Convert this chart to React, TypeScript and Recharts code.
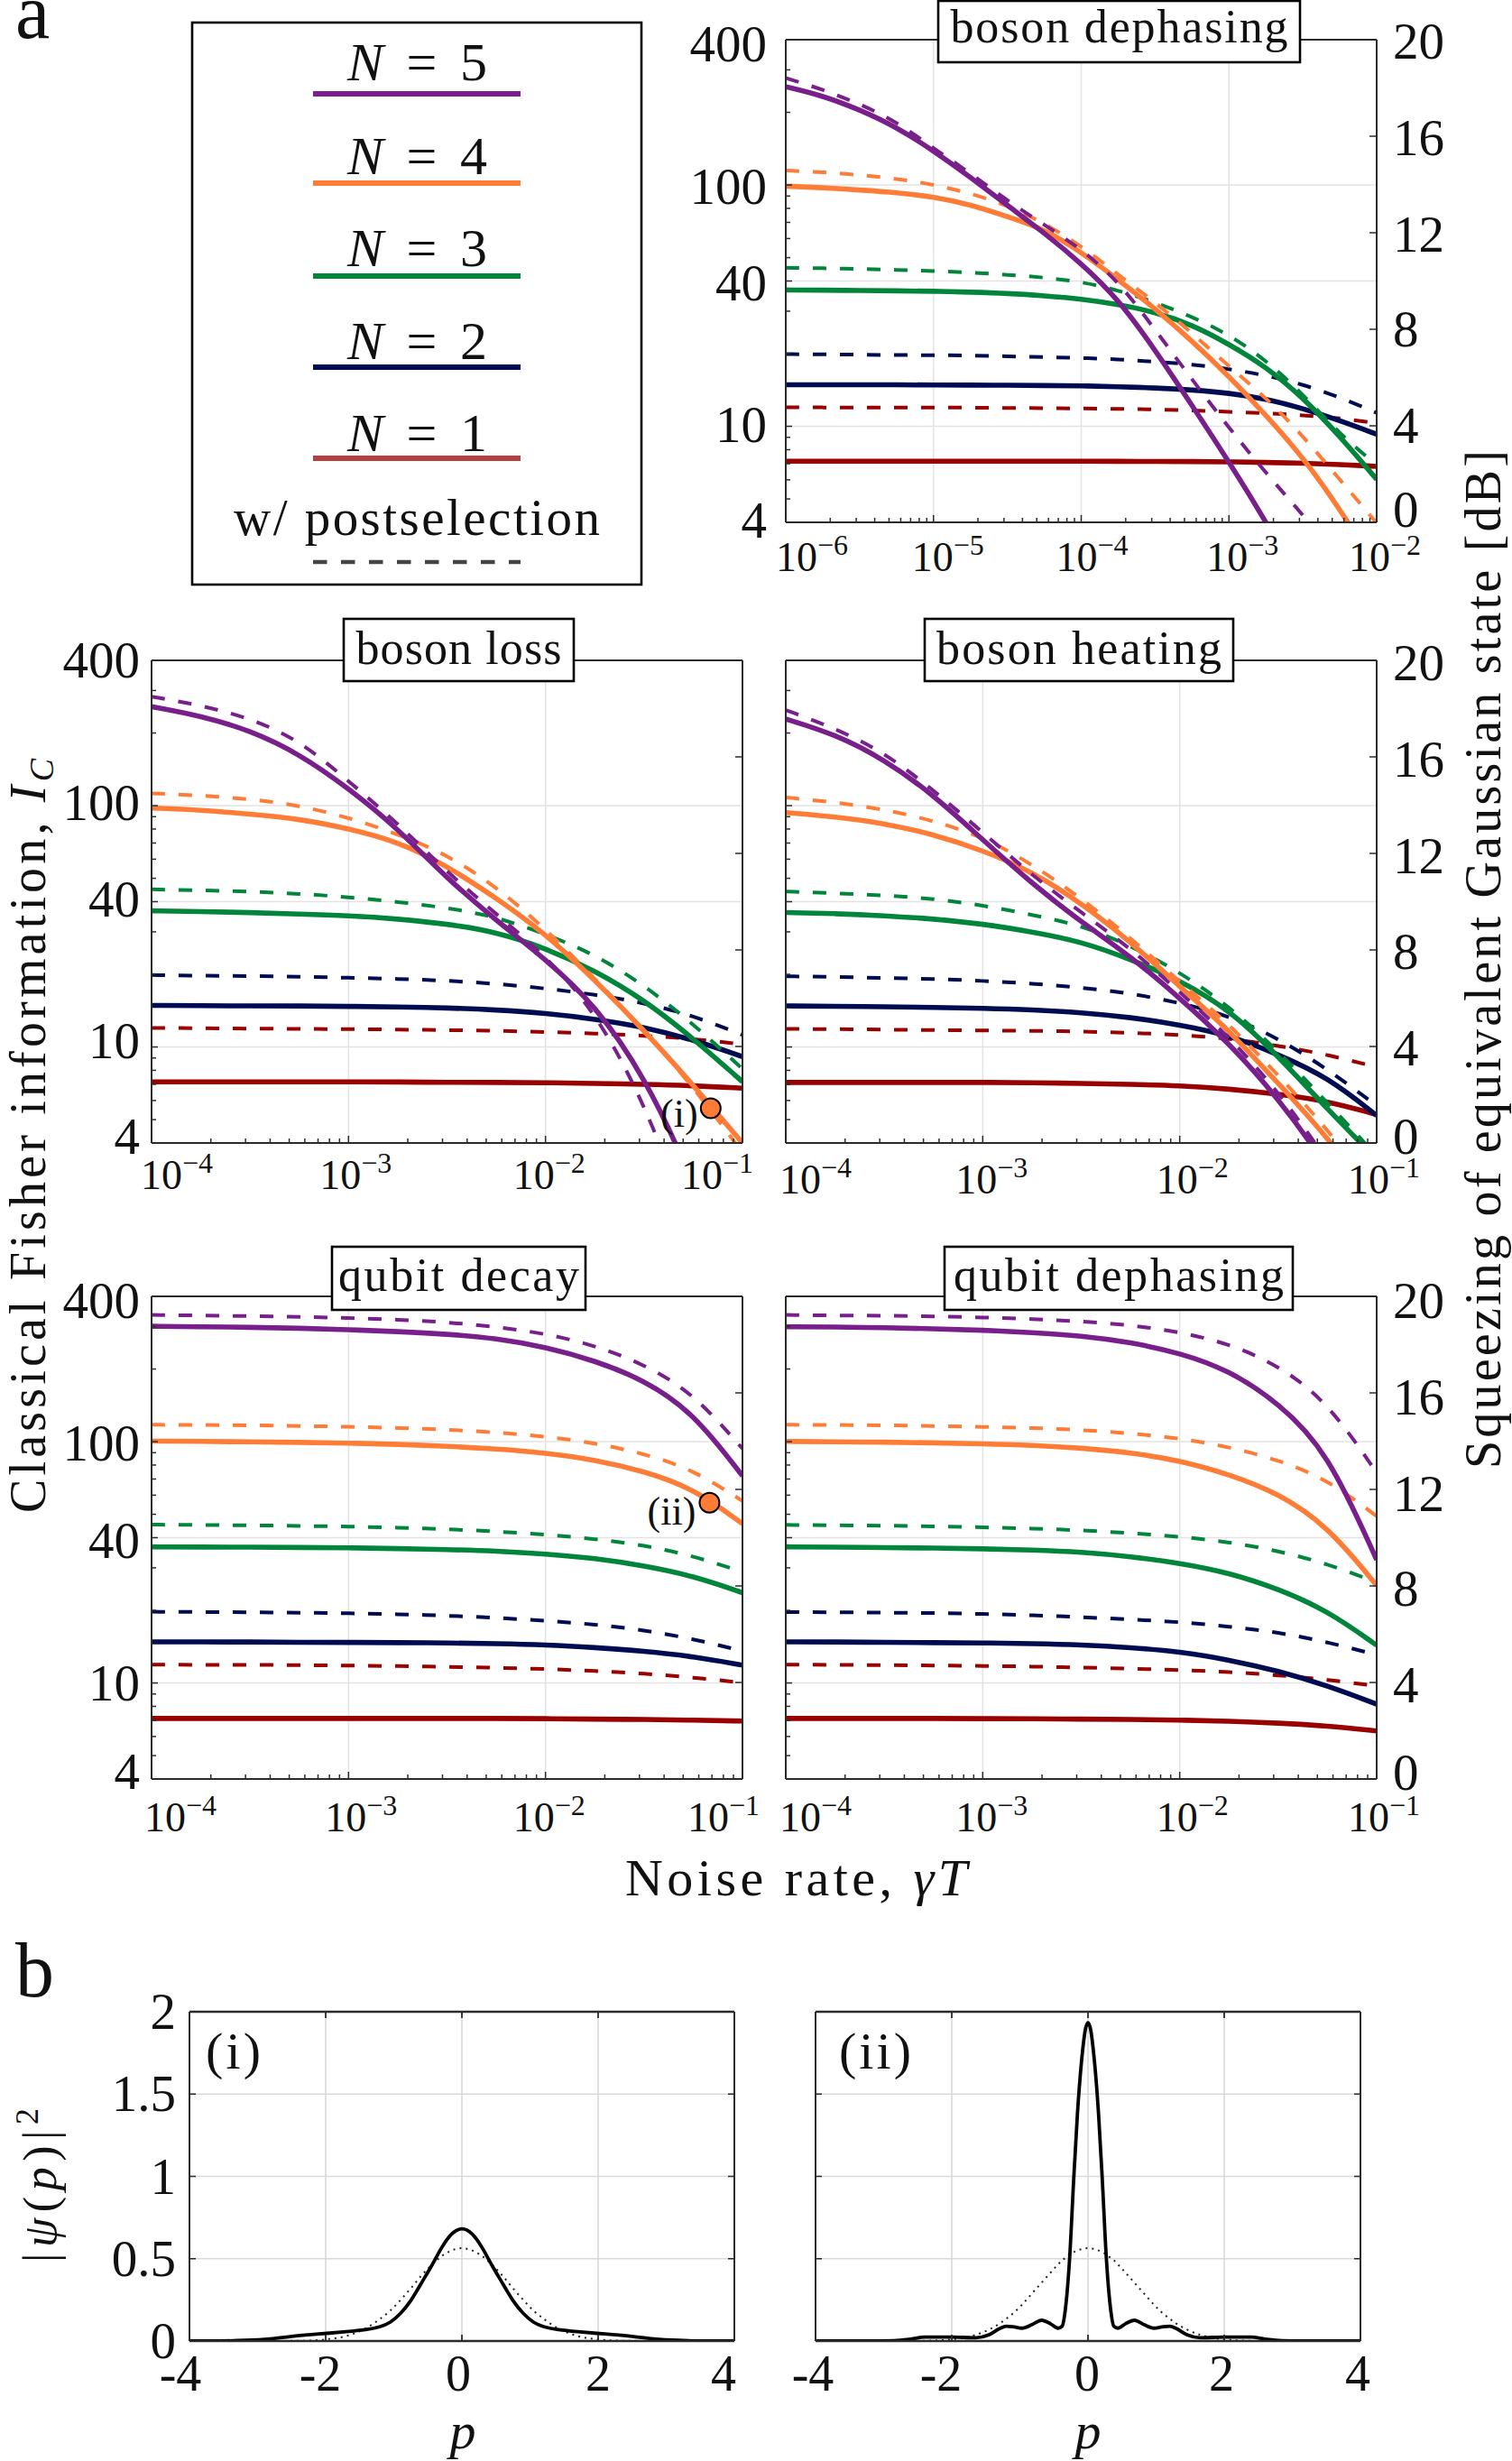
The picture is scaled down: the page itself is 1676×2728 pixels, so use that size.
// Fisher information vs noise rate for five noise channels, plus two wavefunction panels
import React from "react";
import {
  LineChart,
  Line,
  XAxis,
  YAxis,
  CartesianGrid,
  ReferenceDot,
} from "recharts";

const FONT = "'Liberation Serif', serif";
const INK = "#111";
const FRAME = "#2b2b2b";
const GRID = "#e3e3e3";

// x samples, noise rate
const rateDephasing = [1e-6, 1.78e-6, 3.16e-6, 5.62e-6, 1e-5, 1.78e-5, 3.16e-5, 5.62e-5, 1e-4, 1.78e-4, 3.16e-4, 5.62e-4, 1e-3, 1.78e-3, 3.16e-3, 5.62e-3, 1e-2];
const rateOther = [1e-4, 1.78e-4, 3.16e-4, 5.62e-4, 1e-3, 1.78e-3, 3.16e-3, 5.62e-3, 1e-2, 1.78e-2, 3.16e-2, 5.62e-2, 1e-1];

// boson dephasing, squeezing in dB
const depN5 = [18.05, 17.68, 17.1, 16.38, 15.4, 14.3, 13.13, 12.0, 10.73, 9.26, 7.15, 4.85, 2.51, 0.04, -2.7, -5.6, -8.8];
const depN5ps = [18.41, 17.94, 17.34, 16.61, 15.5, 14.47, 13.33, 12.33, 11.33, 10.0, 7.99, 5.92, 3.91, 2.04, 0.31, -1.5, -3.5];
const depN4 = [13.93, 13.87, 13.77, 13.67, 13.49, 13.17, 12.67, 12.16, 11.2, 10.06, 8.86, 7.52, 6.05, 4.45, 2.71, 0.57, -1.9];
const depN4ps = [14.58, 14.51, 14.4, 14.24, 14.0, 13.64, 13.13, 12.4, 11.46, 10.26, 9.12, 7.86, 6.45, 5.18, 3.58, 1.78, -0.03];
const depN3 = [9.63, 9.62, 9.61, 9.59, 9.58, 9.54, 9.49, 9.39, 9.26, 9.03, 8.72, 8.19, 7.39, 6.45, 5.18, 3.58, 1.78];
const depN3ps = [10.55, 10.53, 10.5, 10.46, 10.42, 10.35, 10.26, 10.15, 9.97, 9.62, 9.12, 8.52, 7.79, 6.72, 5.32, 3.65, 2.38];
const depN2 = [5.7, 5.7, 5.7, 5.7, 5.69, 5.69, 5.68, 5.67, 5.66, 5.62, 5.57, 5.49, 5.36, 5.12, 4.72, 4.22, 3.65];
const depN2ps = [6.97, 6.96, 6.95, 6.93, 6.93, 6.91, 6.88, 6.85, 6.81, 6.76, 6.65, 6.55, 6.36, 6.09, 5.72, 5.18, 4.54];
const depN1 = [2.53, 2.53, 2.53, 2.53, 2.53, 2.53, 2.53, 2.53, 2.53, 2.53, 2.52, 2.52, 2.51, 2.48, 2.45, 2.4, 2.32];
const depN1ps = [4.77, 4.76, 4.76, 4.76, 4.76, 4.75, 4.74, 4.73, 4.72, 4.7, 4.68, 4.64, 4.58, 4.52, 4.44, 4.32, 4.11];

// boson loss
const lossN5 = [18.08, 17.7, 17.1, 16.13, 14.7, 13.03, 10.96, 9.22, 7.62, 5.74, 2.81, -1.47, -7.62];
const lossN5ps = [18.5, 18.14, 17.61, 16.7, 15.0, 13.25, 11.22, 9.49, 7.76, 5.48, 1.74, -3.6, -10.3];
const lossN4 = [13.88, 13.8, 13.63, 13.43, 13.03, 12.49, 11.49, 10.15, 8.68, 6.75, 4.68, 2.4, 0];
const lossN4ps = [14.49, 14.4, 14.26, 13.99, 13.49, 12.8, 11.96, 10.62, 8.88, 6.81, 4.68, 2.34, -0.4];
const lossN3 = [9.62, 9.59, 9.55, 9.49, 9.42, 9.29, 9.08, 8.75, 8.08, 7.15, 5.94, 4.34, 2.54];
const lossN3ps = [10.51, 10.47, 10.42, 10.33, 10.19, 9.99, 9.75, 9.38, 8.66, 7.82, 6.55, 4.94, 3.07];
const lossN2 = [5.7, 5.69, 5.68, 5.68, 5.66, 5.64, 5.6, 5.52, 5.38, 5.14, 4.81, 4.28, 3.58];
const lossN2ps = [6.96, 6.93, 6.92, 6.89, 6.85, 6.8, 6.73, 6.6, 6.41, 6.15, 5.81, 5.28, 4.48];
const lossN1 = [2.53, 2.53, 2.53, 2.53, 2.53, 2.53, 2.51, 2.51, 2.5, 2.47, 2.43, 2.38, 2.27];
const lossN1ps = [4.77, 4.76, 4.74, 4.73, 4.72, 4.7, 4.68, 4.65, 4.6, 4.54, 4.45, 4.32, 4.09];

// boson heating
const heatN5 = [17.57, 16.94, 15.9, 14.43, 12.56, 10.75, 9.15, 7.75, 6.01, 4.14, 1.87, -0.94, -4.41];
const heatN5ps = [17.94, 17.19, 16.19, 14.63, 12.87, 11.09, 9.55, 8.08, 6.25, 4.41, 2.14, -0.67, -4.0];
const heatN4 = [13.69, 13.52, 13.25, 12.79, 12.13, 11.25, 9.95, 8.35, 6.48, 4.68, 2.47, 0.27, -2.54];
const heatN4ps = [14.32, 14.12, 13.83, 13.36, 12.69, 11.56, 10.15, 8.51, 6.68, 4.94, 2.81, 0.6, -2.14];
const heatN3 = [9.55, 9.51, 9.42, 9.29, 9.08, 8.75, 8.35, 7.62, 6.75, 5.54, 3.61, 1.4, -0.67];
const heatN3ps = [10.42, 10.35, 10.26, 10.13, 9.85, 9.46, 9.02, 8.19, 7.08, 5.68, 3.81, 1.67, -0.53];
const heatN2 = [5.68, 5.66, 5.65, 5.62, 5.58, 5.52, 5.41, 5.21, 4.9, 4.48, 3.67, 2.74, 1.14];
const heatN2ps = [6.91, 6.88, 6.84, 6.8, 6.72, 6.61, 6.44, 6.21, 5.81, 5.28, 4.34, 3.07, 1.54];
const heatN1 = [2.51, 2.51, 2.51, 2.51, 2.51, 2.5, 2.47, 2.43, 2.38, 2.24, 2.03, 1.74, 1.18];
const heatN1ps = [4.73, 4.72, 4.7, 4.68, 4.66, 4.65, 4.62, 4.57, 4.48, 4.34, 4.03, 3.67, 3.14];

// qubit decay
const decayN5 = [18.76, 18.74, 18.72, 18.68, 18.62, 18.54, 18.44, 18.26, 17.9, 17.34, 16.54, 15.2, 12.56];
const decayN5ps = [19.23, 19.21, 19.18, 19.16, 19.1, 19.04, 18.93, 18.74, 18.46, 17.97, 17.19, 16.0, 13.69];
const decayN4 = [14.0, 13.99, 13.97, 13.95, 13.92, 13.87, 13.79, 13.68, 13.52, 13.23, 12.76, 12.05, 10.58];
const decayN4ps = [14.68, 14.67, 14.66, 14.63, 14.6, 14.55, 14.48, 14.36, 14.2, 13.92, 13.49, 12.82, 11.52];
const decayN3 = [9.62, 9.61, 9.61, 9.59, 9.58, 9.55, 9.51, 9.45, 9.33, 9.15, 8.84, 8.42, 7.72];
const decayN3ps = [10.54, 10.53, 10.51, 10.49, 10.46, 10.42, 10.35, 10.26, 10.13, 9.95, 9.69, 9.25, 8.58];
const decayN2 = [5.68, 5.68, 5.68, 5.66, 5.66, 5.65, 5.64, 5.61, 5.56, 5.45, 5.3, 5.08, 4.72];
const decayN2ps = [6.93, 6.92, 6.91, 6.89, 6.87, 6.83, 6.77, 6.68, 6.56, 6.41, 6.17, 5.81, 5.3];
const decayN1 = [2.51, 2.51, 2.51, 2.51, 2.51, 2.51, 2.51, 2.51, 2.5, 2.48, 2.47, 2.44, 2.4];
const decayN1ps = [4.74, 4.73, 4.73, 4.72, 4.7, 4.68, 4.65, 4.61, 4.56, 4.48, 4.37, 4.21, 3.99];

// qubit dephasing
const qdepN5 = [18.74, 18.73, 18.7, 18.66, 18.6, 18.5, 18.37, 18.1, 17.66, 16.94, 15.6, 13.6, 9.08];
const qdepN5ps = [19.23, 19.21, 19.2, 19.17, 19.13, 19.06, 18.97, 18.81, 18.53, 18.04, 17.15, 15.65, 12.69];
const qdepN4 = [13.99, 13.97, 13.96, 13.93, 13.89, 13.83, 13.72, 13.53, 13.2, 12.63, 11.85, 10.5, 8.02];
const qdepN4ps = [14.68, 14.67, 14.66, 14.63, 14.59, 14.55, 14.47, 14.32, 14.13, 13.76, 13.23, 12.42, 10.89];
const qdepN3 = [9.62, 9.61, 9.59, 9.57, 9.54, 9.49, 9.41, 9.22, 8.95, 8.55, 7.88, 6.98, 5.54];
const qdepN3ps = [10.53, 10.51, 10.5, 10.47, 10.43, 10.38, 10.31, 10.19, 10.05, 9.82, 9.46, 8.92, 8.15];
const qdepN2 = [5.68, 5.68, 5.66, 5.65, 5.64, 5.61, 5.56, 5.45, 5.28, 4.94, 4.48, 3.87, 3.1];
const qdepN2ps = [6.92, 6.91, 6.89, 6.88, 6.84, 6.79, 6.71, 6.61, 6.51, 6.32, 6.08, 5.68, 5.14];
const qdepN1 = [2.51, 2.51, 2.51, 2.51, 2.5, 2.5, 2.48, 2.47, 2.44, 2.4, 2.32, 2.2, 1.99];
const qdepN1ps = [4.74, 4.73, 4.72, 4.7, 4.69, 4.66, 4.62, 4.57, 4.52, 4.44, 4.3, 4.12, 3.85];

// wavefunctions (i) and (ii)
const pGridI = [-4, -3.5, -3.2, -2.8, -2.5, -2.2, -2, -1.7, -1.4, -1.2, -1.05, -0.9, -0.75, -0.6, -0.45, -0.3, -0.15, 0, 0.15, 0.3, 0.45, 0.6, 0.75, 0.9, 1.05, 1.2, 1.4, 1.7, 2, 2.2, 2.5, 2.8, 3.2, 3.5, 4];
const psiI = [0, 0, 0.003, 0.012, 0.03, 0.04, 0.046, 0.056, 0.068, 0.085, 0.11, 0.165, 0.24, 0.35, 0.45, 0.57, 0.66, 0.692, 0.66, 0.57, 0.45, 0.35, 0.24, 0.165, 0.11, 0.085, 0.068, 0.056, 0.046, 0.04, 0.03, 0.012, 0.003, 0, 0];
const gaussI = [0, 0, 0, 0, 0.001, 0.003, 0.01, 0.03, 0.08, 0.135, 0.185, 0.25, 0.32, 0.395, 0.46, 0.515, 0.55, 0.564, 0.55, 0.515, 0.46, 0.395, 0.32, 0.25, 0.185, 0.135, 0.08, 0.03, 0.01, 0.003, 0.001, 0, 0, 0, 0];
const pGridII = [-4, -3.2, -2.85, -2.6, -2.4, -2, -1.65, -1.45, -1.3, -1.2, -1.08, -0.97, -0.82, -0.68, -0.55, -0.44, -0.38, -0.33, -0.27, -0.21, -0.155, -0.08, -0.04, 0, 0.04, 0.08, 0.155, 0.21, 0.27, 0.33, 0.38, 0.44, 0.55, 0.68, 0.82, 0.97, 1.08, 1.2, 1.3, 1.45, 1.65, 2, 2.4, 2.6, 2.85, 3.2, 4];
const psiII = [0, 0, 0.002, 0.012, 0.024, 0.024, 0.02, 0.038, 0.075, 0.09, 0.085, 0.078, 0.1, 0.126, 0.105, 0.078, 0.09, 0.2, 0.5, 0.98, 1.38, 1.76, 1.89, 1.934, 1.89, 1.76, 1.38, 0.98, 0.5, 0.2, 0.09, 0.078, 0.105, 0.126, 0.1, 0.078, 0.085, 0.09, 0.075, 0.038, 0.02, 0.024, 0.024, 0.012, 0.002, 0, 0];
const gaussII = [0, 0, 0, 0, 0.001, 0.01, 0.037, 0.07, 0.105, 0.135, 0.175, 0.22, 0.29, 0.355, 0.415, 0.465, 0.49, 0.505, 0.525, 0.54, 0.55, 0.56, 0.563, 0.564, 0.563, 0.56, 0.55, 0.54, 0.525, 0.505, 0.49, 0.465, 0.415, 0.355, 0.29, 0.22, 0.175, 0.135, 0.105, 0.07, 0.037, 0.01, 0.001, 0, 0, 0, 0];

// tick labels
const leftLabels = [4, 10, 40, 100, 400];
const rightLabels = [0, 4, 8, 12, 16, 20];
const leftMinor = [4, 5, 6, 7, 8, 9, 10, 20, 30, 40, 50, 60, 70, 80, 90, 100, 200, 300, 400];
const pTicks = [-4, -2, 0, 2, 4];
const pInnerTicks = [-2, 0, 2];
const psiTicks = [0, 0.5, 1, 1.5, 2];

// series order is back to front
const seriesKeys = ["n1ps", "n1", "n2ps", "n2", "n3ps", "n3", "n4ps", "n4", "n5ps", "n5"];
const seriesColors: Record<string, string> = {
  n1: "#990000",
  n2: "#000c52",
  n3: "#00853a",
  n4: "#ff7c36",
  n5: "#781f8b",
};

const legendLabels = ["5", "4", "3", "2", "1"];
const legendColors = ["#7b1f8e", "#ff7c36", "#00853a", "#000c52", "#b5403f"];
const legendLineY = [104, 203, 306, 407, 508];
const legendTextY = [89, 193, 295, 398, 500];

const makeRows = (xs: number[], arrs: number[][]) =>
  xs.map((x, i) => {
    const row: Record<string, number> = { x };
    seriesKeys.forEach((k, j) => {
      row[k] = arrs[j][i];
    });
    return row;
  });

const logTicks = (from: number, to: number) => {
  const out: number[] = [];
  for (let e = from; e < to; e++) {
    for (let m = 1; m < 10; m++) out.push(m * 10 ** e);
  }
  out.push(10 ** to);
  return out;
};

const PLOT_W = 655;
const PLOT_H = 535;
const L = 168;
const R = 110;
const T = 44;
const B = 90;

const panels = [
  {
    title: "boson dephasing",
    box: [1040, 1, 401, 68, 374, 47],
    x: 871, y: 44, from: -6, to: -2,
    rows: makeRows(rateDephasing, [depN1ps, depN1, depN2ps, depN2, depN3ps, depN3, depN4ps, depN4, depN5ps, depN5]),
    labelDx: [29, 16, 12, 15, 9], baseline: 54, showLeft: true, showRight: true,
    leftDy: [-2, -2, 2, 2, 5], rightDy: [-14, 0, 0, 2, 2, 2],
  },
  {
    title: "boson loss",
    box: [381, 686, 255, 69, 228, 736],
    x: 168, y: 732, from: -4, to: -1,
    rows: makeRows(rateOther, [lossN1ps, lossN1, lossN2ps, lossN2, lossN3ps, lossN3, lossN4ps, lossN4, lossN5ps, lossN5]),
    labelDx: [28, 8, 4, -28], baseline: 51, showLeft: true, showRight: false,
    leftDy: [-7, -7, -3, -3, 0], rightDy: [0, 0, 0, 0, 0, 0],
    dot: { x: 0.069, y: 1.44, label: "(i)", dx: -35, dy: 5 },
  },
  {
    title: "boson heating",
    box: [1025, 686, 342, 69, 316, 736],
    x: 871, y: 732, from: -4, to: -1,
    rows: makeRows(rateOther, [heatN1ps, heatN1, heatN2ps, heatN2, heatN3ps, heatN3, heatN4ps, heatN4, heatN5ps, heatN5]),
    labelDx: [33, 10, 14, 8], baseline: 56, showLeft: false, showRight: true,
    leftDy: [0, 0, 0, 0, 0], rightDy: [-7, 2, 2, 3, 3, 3],
  },
  {
    title: "qubit decay",
    box: [368, 1382, 281, 70, 267, 1431],
    x: 168, y: 1437, from: -4, to: -1,
    rows: makeRows(rateOther, [decayN1ps, decayN1, decayN2ps, decayN2, decayN3ps, decayN3, decayN4ps, decayN4, decayN5ps, decayN5]),
    labelDx: [32, 14, 4, -21], baseline: 58, showLeft: true, showRight: false,
    leftDy: [-8, 0, 3, 2, 5], rightDy: [0, 0, 0, 0, 0, 0],
    dot: { x: 0.068, y: 11.45, label: "(ii)", dx: -42, dy: 9 },
  },
  {
    title: "qubit dephasing",
    box: [1047, 1382, 386, 70, 366, 1431],
    x: 871, y: 1437, from: -4, to: -1,
    rows: makeRows(rateOther, [qdepN1ps, qdepN1, qdepN2ps, qdepN2, qdepN3ps, qdepN3, qdepN4ps, qdepN4, qdepN5ps, qdepN5]),
    labelDx: [33, 10, 14, 8], baseline: 58, showLeft: false, showRight: true,
    leftDy: [0, 0, 0, 0, 0], rightDy: [-7, 3, 3, 5, 5, 5],
  },
];

const profiles = [
  {
    x: 210, y: 2230, w: 604, h: 365, left: 168, showLeft: true, tag: "(i)", tagX: 228, tagLen: 61, curve: "basis",
    rows: pGridI.map((p, i) => ({ p, psi: psiI[i], gauss: gaussI[i] })),
    labelDx: [-10, -6, -4, 0, -12],
  },
  {
    x: 904, y: 2230, w: 604, h: 365, left: 26, showLeft: false, tag: "(ii)", tagX: 930, tagLen: 80, curve: "monotone",
    rows: pGridII.map((p, i) => ({ p, psi: psiII[i], gauss: gaussII[i] })),
    labelDx: [-3, -12, -1, -3, -3],
  },
];

function RateTick({ x, y, value, from, labelDx, baseline }: any) {
  const exp = Math.round(Math.log10(value));
  const major = Math.abs(Math.log10(value) - exp) < 1e-6;
  return (
    <g>
      <line x1={x} x2={x} y1={y} y2={y - (major ? 8 : 5)} stroke={FRAME} strokeWidth={1.5} />
      {major && (
        <text x={x + labelDx[exp - from]} y={y + baseline} textAnchor="middle" fontFamily={FONT} fontSize={46} fill={INK}>
          10
          <tspan dy={-18} fontSize={32}>{"\u2212" + Math.abs(exp)}</tspan>
        </text>
      )}
    </g>
  );
}

function RateTopTick({ x, y, value }: any) {
  const major = Math.abs(Math.log10(value) - Math.round(Math.log10(value))) < 1e-6;
  return <line x1={x} x2={x} y1={y} y2={y + (major ? 8 : 5)} stroke={FRAME} strokeWidth={1.5} />;
}

function SideTick({ x, y, value, side, labels, gap, len, nudges }: any) {
  const sign = side === "left" ? 1 : -1;
  const idx = labels.indexOf(value);
  return (
    <g>
      <line x1={x} x2={x + sign * (idx >= 0 ? len + 2 : len)} y1={y} y2={y} stroke={FRAME} strokeWidth={1.5} />
      {gap > 0 && idx >= 0 && (
        <text
          x={side === "left" ? x - gap : x + gap}
          y={y + 19 + (nudges ? nudges[idx] : 0)}
          textAnchor={side === "left" ? "end" : "start"}
          fontFamily={FONT}
          fontSize={57}
          fill={INK}
        >
          {value}
        </text>
      )}
    </g>
  );
}

function NoisePanel({ panel }: any) {
  const { x, y, from, to, rows, labelDx, baseline, showLeft, showRight, dot, leftDy, rightDy } = panel;
  const bottomTicks = logTicks(from, to);
  const decades = bottomTicks.filter((v) => Math.abs(Math.log10(v) - Math.round(Math.log10(v))) < 1e-6);
  const leftGap = x < 400 ? 13 : 21;
  return (
    <div style={{ position: "absolute", left: x - L, top: y - T }}>
      <LineChart
        width={PLOT_W + L + R}
        height={PLOT_H + T + B}
        data={rows}
        margin={{ top: T - 1, right: 0, bottom: 0, left: 0 }}
      >
        <CartesianGrid
          xAxisId="x"
          yAxisId="log"
          stroke={GRID}
          strokeWidth={1.6}
          horizontalValues={[10, 40, 100]}
          verticalValues={decades.slice(1, -1)}
        />
        <XAxis
          xAxisId="x"
          dataKey="x"
          type="number"
          scale="log"
          domain={[10 ** from, 10 ** to]}
          allowDataOverflow
          ticks={bottomTicks}
          interval={0}
          height={B}
          tickLine={false}
          tickSize={0}
          tickMargin={0}
          axisLine={{ stroke: FRAME, strokeWidth: 2 }}
          tick={(p: any) => (
            <RateTick x={p.x} y={p.y} value={p.payload.value} from={from} labelDx={labelDx} baseline={baseline} />
          )}
        />
        <XAxis
          xAxisId="top"
          orientation="top"
          type="number"
          scale="log"
          domain={[10 ** from, 10 ** to]}
          allowDataOverflow
          ticks={bottomTicks}
          interval={0}
          height={1}
          tickLine={false}
          tickSize={0}
          tickMargin={0}
          axisLine={{ stroke: FRAME, strokeWidth: 2 }}
          tick={(p: any) => <RateTopTick x={p.x} y={p.y} value={p.payload.value} />}
        />
        <YAxis
          yAxisId="log"
          orientation="left"
          type="number"
          scale="log"
          domain={[4, 400]}
          allowDataOverflow
          ticks={leftMinor}
          interval={0}
          width={L}
          tickLine={false}
          tickSize={0}
          tickMargin={0}
          axisLine={{ stroke: FRAME, strokeWidth: 2 }}
          tick={(p: any) => (
            <SideTick x={p.x} y={p.y} value={p.payload.value} side="left" labels={leftLabels} gap={showLeft ? leftGap : 0} len={5} nudges={leftDy} />
          )}
        />
        <YAxis
          yAxisId="db"
          orientation="right"
          type="number"
          domain={[0, 20]}
          allowDataOverflow
          ticks={rightLabels}
          interval={0}
          width={R}
          tickLine={false}
          tickSize={0}
          tickMargin={0}
          axisLine={{ stroke: FRAME, strokeWidth: 2 }}
          tick={(p: any) => (
            <SideTick x={p.x} y={p.y} value={p.payload.value} side="right" labels={rightLabels} gap={showRight ? 18 : 0} len={6} nudges={rightDy} />
          )}
        />
        {seriesKeys.map((k) => {
          const dashed = k.endsWith("ps");
          return (
            <Line
              key={k}
              xAxisId="x"
              yAxisId="db"
              dataKey={k}
              type="basis"
              stroke={seriesColors[k.slice(0, 2)]}
              strokeWidth={dashed ? 4 : 5.6}
              strokeDasharray={dashed ? "15 15" : undefined}
              dot={false}
              isAnimationActive={false}
            />
          );
        })}
        {dot && (
          <ReferenceDot
            xAxisId="x"
            yAxisId="db"
            x={dot.x}
            y={dot.y}
            r={11}
            fill="#ff7c36"
            stroke="#000"
            strokeWidth={2}
            label={{ value: dot.label, position: "center", dx: dot.dx, dy: dot.dy, fontFamily: FONT, fontSize: 44, fill: INK }}
          />
        )}
      </LineChart>
    </div>
  );
}

function ProfileTick({ x, y, value, dx }: any) {
  return (
    <g>
      {Math.abs(value) < 4 && <line x1={x} x2={x} y1={y} y2={y - 7} stroke={FRAME} strokeWidth={1.8} />}
      <text x={x + dx} y={y + 55} textAnchor="middle" fontFamily={FONT} fontSize={56} fill={INK}>
        {value}
      </text>
    </g>
  );
}

function ProfilePanel({ panel }: any) {
  const { x, y, w, h, rows, showLeft, labelDx, curve, left } = panel;
  const right = 30;
  return (
    <div style={{ position: "absolute", left: x - left, top: y - T }}>
      <LineChart width={w + left + right} height={h + T + B} data={rows} margin={{ top: T - 1, right: 0, bottom: 0, left: 0 }}>
        <CartesianGrid
          xAxisId="x"
          yAxisId="psi"
          stroke="#d9d9d9"
          strokeWidth={1.6}
          horizontalValues={[0.5, 1, 1.5]}
          verticalValues={pInnerTicks}
        />
        <XAxis
          xAxisId="x"
          dataKey="p"
          type="number"
          domain={[-4, 4]}
          allowDataOverflow
          ticks={pTicks}
          interval={0}
          height={B}
          tickLine={false}
          tickSize={0}
          tickMargin={0}
          axisLine={{ stroke: FRAME, strokeWidth: 2.4 }}
          tick={(p: any) => (
            <ProfileTick x={p.x} y={p.y} value={p.payload.value} dx={labelDx[pTicks.indexOf(p.payload.value)]} />
          )}
        />
        <XAxis
          xAxisId="top"
          dataKey="p"
          orientation="top"
          type="number"
          domain={[-4, 4]}
          allowDataOverflow
          ticks={pInnerTicks}
          interval={0}
          height={1}
          tickLine={false}
          tickSize={0}
          tickMargin={0}
          axisLine={{ stroke: FRAME, strokeWidth: 2.4 }}
          tick={(p: any) => <line x1={p.x} x2={p.x} y1={p.y} y2={p.y + 7} stroke={FRAME} strokeWidth={1.8} />}
        />
        <YAxis
          yAxisId="psi"
          orientation="left"
          type="number"
          domain={[0, 2]}
          allowDataOverflow
          ticks={psiTicks}
          interval={0}
          width={left}
          tickLine={false}
          tickSize={0}
          tickMargin={0}
          axisLine={{ stroke: FRAME, strokeWidth: 2 }}
          tick={(p: any) => (
            <SideTick x={p.x} y={p.y} value={p.payload.value} side="left" labels={psiTicks} gap={showLeft ? 15 : 0} len={5} />
          )}
        />
        <YAxis
          yAxisId="right"
          orientation="right"
          type="number"
          domain={[0, 2]}
          allowDataOverflow
          ticks={psiTicks}
          interval={0}
          width={right}
          tickLine={false}
          tickSize={0}
          tickMargin={0}
          axisLine={{ stroke: FRAME, strokeWidth: 2 }}
          tick={(p: any) => (
            <SideTick x={p.x} y={p.y} value={p.payload.value} side="right" labels={psiTicks} gap={0} len={5} />
          )}
        />
        <Line
          xAxisId="x"
          yAxisId="psi"
          dataKey="gauss"
          type="monotone"
          stroke="#222"
          strokeWidth={2}
          strokeDasharray="2 5"
          dot={false}
          isAnimationActive={false}
        />
        <Line
          xAxisId="x"
          yAxisId="psi"
          dataKey="psi"
          type={curve}
          stroke="#000"
          strokeWidth={3.8}
          dot={false}
          isAnimationActive={false}
        />
      </LineChart>
    </div>
  );
}

// text, legend and title boxes on top of the charts
function Overlay() {
  const txt = { fontFamily: FONT, fill: INK };
  return (
    <svg width={1676} height={2728} style={{ position: "absolute", left: 0, top: 0, pointerEvents: "none" }}>
      <text x={17} y={42} fontSize={86} {...txt}>a</text>
      <text x={17} y={2213} fontSize={86} {...txt}>b</text>

      <rect x={213} y={25} width={498} height={623} fill="#fff" stroke="#000" strokeWidth={2.6} />
      {legendLabels.map((n, i) => (
        <g key={n}>
          <text x={385} y={legendTextY[i]} fontSize={60} textLength={155} lengthAdjust="spacing" {...txt}>
            <tspan fontStyle="italic">N</tspan> = {n}
          </text>
          <line x1={347} x2={577} y1={legendLineY[i]} y2={legendLineY[i]} stroke={legendColors[i]} strokeWidth={6} />
        </g>
      ))}
      <text x={259} y={593} fontSize={57} textLength={406} lengthAdjust="spacing" {...txt}>w/ postselection</text>
      <line x1={347} x2={577} y1={623} y2={623} stroke="#444" strokeWidth={4.5} strokeDasharray="15.5 15.5" />

      {panels.map((p) => {
        const [bx, by, bw, bh, len, base] = p.box;
        return (
          <g key={p.title}>
            <rect x={bx} y={by} width={bw} height={bh} fill="#fff" stroke="#000" strokeWidth={2.6} />
            <text x={bx + bw / 2} y={base} textAnchor="middle" fontSize={52} textLength={len} lengthAdjust="spacing" {...txt}>
              {p.title}
            </text>
          </g>
        );
      })}

      {profiles.map((p) => (
        <text key={p.tag} x={p.tagX} y={2293} fontSize={58} textLength={p.tagLen} lengthAdjust="spacing" {...txt}>{p.tag}</text>
      ))}

      <text transform="translate(50 1677) rotate(-90)" fontSize={56} textLength={836} lengthAdjust="spacing" {...txt}>
        Classical Fisher information, <tspan fontStyle="italic">I</tspan>
        <tspan fontStyle="italic" fontSize={38} dy={9}>C</tspan>
      </text>
      <text transform="translate(1663 1628) rotate(-90)" fontSize={56} textLength={1129} lengthAdjust="spacing" {...txt}>
        Squeezing of equivalent Gaussian state [dB]
      </text>
      <text x={693} y={2101} fontSize={58} textLength={379} lengthAdjust="spacing" {...txt}>
        Noise rate, <tspan fontStyle="italic">γT</tspan>
      </text>
      <text transform="translate(62 2508) rotate(-90)" fontSize={52} textLength={171} lengthAdjust="spacing" {...txt}>
        |<tspan fontStyle="italic">ψ</tspan>(<tspan fontStyle="italic">p</tspan>)|
        <tspan fontSize={36} dy={-20}>2</tspan>
      </text>
      <text x={513} y={2714} textAnchor="middle" fontSize={58} fontStyle="italic" {...txt}>p</text>
      <text x={1206} y={2714} textAnchor="middle" fontSize={58} fontStyle="italic" {...txt}>p</text>
    </svg>
  );
}

export default function App() {
  return (
    <div style={{ position: "absolute", left: 0, top: 0, width: 1676, height: 2728, background: "#fff" }}>
      {panels.map((p) => (
        <NoisePanel key={p.title} panel={p} />
      ))}
      {profiles.map((p) => (
        <ProfilePanel key={p.tag} panel={p} />
      ))}
      <Overlay />
    </div>
  );
}
